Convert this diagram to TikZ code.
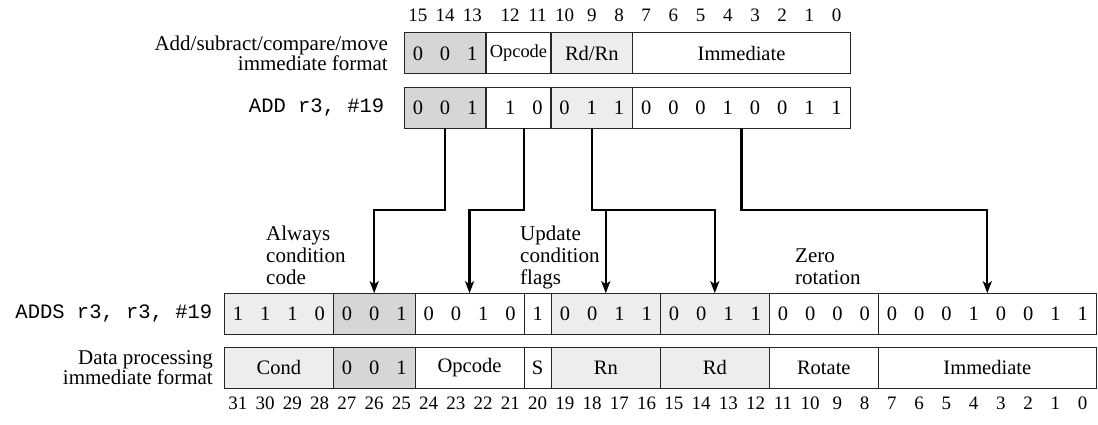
\documentclass[tikz,border=0pt]{standalone}
\usepackage{fontspec}
\setmainfont{Liberation Serif}
\setmonofont{Liberation Mono}
\usetikzlibrary{arrows.meta,calc}
\colorlet{darkfld}{black!16}
\colorlet{lightfld}{black!7}
% field box: name, left x, right x, centre y, fill, text
\newcommand{\fieldbox}[6]{%
  \node[fld, fill=#5, minimum width={#3-#2}] (#1) at ({#2},{#4}) {#6};}

\begin{document}
\begin{tikzpicture}[x=1pt, y=-1pt,
  fld/.style={draw=black!85, line width=1.1pt, inner sep=0pt, outer sep=0pt,
    minimum height=41pt, anchor=west, font=\fontsize{20.5}{22}\selectfont},
  bit/.style={inner sep=0pt, font=\fontsize{20.5}{22}\selectfont},
  num/.style={inner sep=0pt, font=\fontsize{19}{20}\selectfont},
  lbl/.style={inner sep=0pt, anchor=east, align=right, font=\fontsize{21}{17.5}\selectfont},
  code/.style={inner sep=0pt, anchor=east, font=\ttfamily\fontsize{20.5}{22}\selectfont},
  note/.style={inner sep=0pt, anchor=north west, align=left, font=\fontsize{21}{22}\selectfont},
  flow/.style={line width=2.2pt, -{Stealth[length=12pt, width=9pt, inset=3pt]}}]
\useasboundingbox (0,0) rectangle (1098,424);

% 16-bit Thumb format
\fieldbox{fa}{404.3}{486}{53.3}{darkfld}{}
\fieldbox{fb}{486}{551}{53.3}{white}{\fontsize{18.4}{20}\selectfont Opcode}
\fieldbox{fc}{551}{632.6}{53.3}{lightfld}{Rd/Rn}
\fieldbox{fd}{632.6}{850.4}{53.3}{white}{Immediate}
\fieldbox{va}{404.3}{486}{107.8}{darkfld}{}
\fieldbox{vb}{486}{551}{107.8}{white}{}
\fieldbox{vc}{551}{632.6}{107.8}{lightfld}{}
\fieldbox{vd}{632.6}{850.4}{107.8}{white}{}

\foreach \b in {15,...,0} {
  \pgfmathsetmacro\xx{\b>12 ? 404.3+(15.5-\b)*27.2 : 551+(10.5-\b)*27.2}
  \node[num] (tn\b) at (\xx,15) {\b};
}
\foreach \b/\v in {15/0,14/0,13/1} {
  \pgfmathsetmacro\xx{404.3+(15.5-\b)*27.2}
  \node[bit] (tf\b) at (\xx,53.3) {\v};
}
\foreach \v [count=\i from 0] in {0,0,1,1,0,0,1,1,0,0,0,1,0,0,1,1} {
  \pgfmathtruncatemacro\b{15-\i}
  \pgfmathsetmacro\xx{\b>12 ? 404.3+(15.5-\b)*27.2 : 551+(10.5-\b)*27.2}
  \node[bit] (tv\b) at (\xx,107.8) {\v};
}

\node[lbl] (lfmt) at (388,53.3) {Add/subract/compare/move\\immediate format};
\node[code] (ladd) at (384.5,107.8) {ADD r3, \#19};

% 32-bit ARM format
\fieldbox{ba}{224.3}{333.3}{313.7}{lightfld}{}
\fieldbox{bb}{333.3}{415.05}{313.7}{darkfld}{}
\fieldbox{bc}{415.05}{524.05}{313.7}{white}{}
\fieldbox{bd}{524.05}{551.3}{313.7}{white}{}
\fieldbox{be}{551.3}{660.3}{313.7}{lightfld}{}
\fieldbox{bf}{660.3}{769.3}{313.7}{lightfld}{}
\fieldbox{bg}{769.3}{878.3}{313.7}{white}{}
\fieldbox{bh}{878.3}{1096.3}{313.7}{white}{}
\fieldbox{da}{224.3}{333.3}{367.8}{lightfld}{Cond}
\fieldbox{db}{333.3}{415.05}{367.8}{darkfld}{}
\fieldbox{dc}{415.05}{524.05}{367.8}{white}{Opcode}
\fieldbox{dd}{524.05}{551.3}{367.8}{white}{S}
\fieldbox{de}{551.3}{660.3}{367.8}{lightfld}{Rn}
\fieldbox{df}{660.3}{769.3}{367.8}{lightfld}{Rd}
\fieldbox{dg}{769.3}{878.3}{367.8}{white}{Rotate}
\fieldbox{dh}{878.3}{1096.3}{367.8}{white}{Immediate}

\foreach \v [count=\i] in {1,1,1,0,0,0,1,0,0,1,0,1,0,0,1,1,0,0,1,1,0,0,0,0,0,0,0,1,0,0,1,1}
  \node[bit] (bv\i) at ({224.3+(\i-0.5)*27.25},313.7) {\v};
\foreach \i/\v in {5/0,6/0,7/1}
  \node[bit] (dv\i) at ({224.3+(\i-0.5)*27.25},367.8) {\v};
\foreach \i in {1,...,32} {
  \pgfmathtruncatemacro\b{32-\i}
  \node[num] (bn\b) at ({224.3+(\i-0.5)*27.25},403) {\b};
}

\node[code] (ladds) at (212.5,313.7) {ADDS r3, r3, \#19};
\node[lbl] (ldp) at (213,367.8) {Data processing\\immediate format};

% notes
\node[note] (nalw) at (266,226.2) {Always\\condition\\code};
\node[note] (nupd) at (520,226.2) {Update\\condition\\flags};
\node[note] (nzro) at (795,248.6) {Zero\\rotation};

% mapping arrows
\coordinate (hl) at (0,210);
\coordinate (om) at ($(tv12)!.5!(tv11)$);
\draw[flow] (va.south) -- (va.south |- hl) -| (bb.north);
\draw[flow] (om |- vb.south) -- (om |- hl) -| (bc.north);
\draw[flow] (vc.south) -- (vc.south |- hl) -| (bf.north);
\draw[flow] (be.north |- hl) -- (be.north);
\draw[flow] (vd.south) -- (vd.south |- hl) -| (bh.north);
\end{tikzpicture}
\end{document}
